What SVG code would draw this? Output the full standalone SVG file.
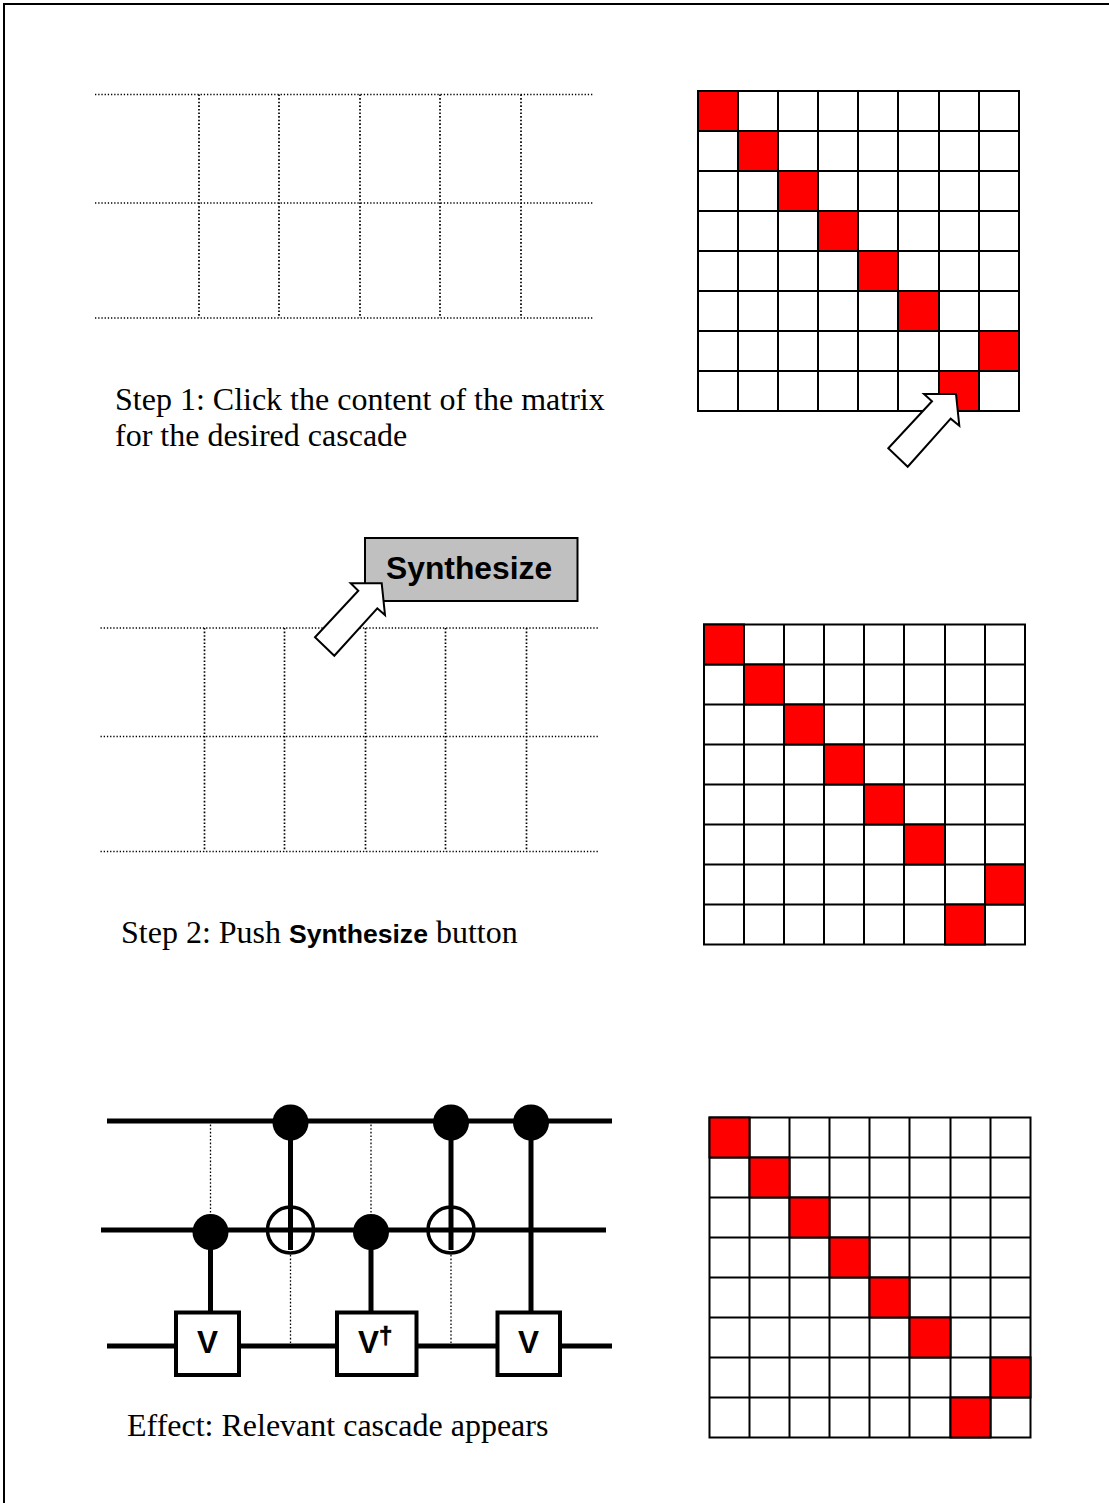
<svg xmlns="http://www.w3.org/2000/svg" xmlns:xlink="http://www.w3.org/1999/xlink" width="1109" height="1503" viewBox="0 0 1109 1503">
<style>
.dot{stroke:#000;stroke-width:1.300;stroke-dasharray:1.300 1.900;fill:none}
.dotv{stroke:#000;stroke-width:1.700;stroke-dasharray:1.600 2;fill:none}
.wire{stroke:#000;stroke-width:5;fill:none}
.cell{fill:#fff;stroke:#000;stroke-width:2}
.red{fill:#f00;stroke:#000;stroke-width:2}
.arrow{fill:#fff;stroke:#000;stroke-width:2;stroke-linejoin:miter}
.gate{fill:#fff;stroke:#000;stroke-width:4}
.cap{font-family:"Liberation Serif","Times New Roman",serif;font-size:32px;fill:#000}
.bold{font-family:"Liberation Sans",Arial,sans-serif;font-weight:bold;fill:#000}
</style>
<defs>
<g id="matrix">
<rect class="cell" x="0" y="0" width="321" height="320"/>
<path d="M40 0V320M80 0V320M120 0V320M160 0V320M200 0V320M241 0V320M281 0V320M0 40H321M0 80H321M0 120H321M0 160H321M0 200H321M0 240H321M0 280H321" fill="none" stroke="#000" stroke-width="2"/>
<rect class="red" x="0" y="0" width="40" height="40"/>
<rect class="red" x="40" y="40" width="40" height="40"/>
<rect class="red" x="80" y="80" width="40" height="40"/>
<rect class="red" x="120" y="120" width="40" height="40"/>
<rect class="red" x="160" y="160" width="40" height="40"/>
<rect class="red" x="200" y="200" width="41" height="40"/>
<rect class="red" x="281" y="240" width="40" height="40"/>
<rect class="red" x="241" y="280" width="40" height="40"/>
</g>
<g id="grid">
<path class="dot" d="M0 0H499M0 108.500H499M0 223.500H499"/>
<path class="dotv" d="M104 0V223.500M184 0V223.500M265 0V223.500M345 0V223.500M426 0V223.500"/>
</g>
</defs>
<rect width="1109" height="1503" fill="#fff"/>
<path id="frame" d="M4 1503V4H1109" fill="none" stroke="#000" stroke-width="2"/>
<g id="step1">
<use id="grid1" xlink:href="#grid" href="#grid" transform="translate(95 94.500)"/>
<use id="matrix1" xlink:href="#matrix" href="#matrix" transform="translate(698 91)"/>
<polygon id="arrow1" class="arrow" points="924,394 956,394 959.300,425.700 950.700,418.700 907.700,466.700 888.300,448.300 932,401.300"/>
<text class="cap" x="115" y="410">Step 1: Click the content of the matrix</text>
<text class="cap" x="115" y="446">for the desired cascade</text>
</g>
<g id="step2">
<use id="grid2" xlink:href="#grid" href="#grid" transform="translate(100.500 628)"/>
<use id="matrix2" xlink:href="#matrix" href="#matrix" transform="translate(704 624.500)"/>
<g id="button">
<rect x="365" y="538" width="212.500" height="63" fill="#c0c0c0" stroke="#000" stroke-width="2"/>
<text class="bold" x="386" y="579" font-size="31.800">Synthesize</text>
</g>
<polygon id="arrow2" class="arrow" points="350.700,583.300 381.700,583.300 385,615 377.300,608.300 334.300,655.700 315,637.300 358.300,590.700"/>
<text class="cap" x="121" y="943">Step 2: Push <tspan class="bold" font-size="26.600">Synthesize</tspan> button</text>
</g>
<g id="effect">
<g id="connectors">
<path class="dotv" d="M210.500 1121V1214M371 1121V1214M290.500 1255V1343M451 1255V1343" style="stroke-width:1.300"/>
<path class="wire" d="M107 1121H612M101 1230H606M107 1346H612"/>
<path class="wire" d="M290.500 1122V1250M451 1122V1250M531 1122V1312M210.500 1232V1312M371 1232V1312"/>
</g>
<g id="control1"><circle cx="290.500" cy="1122.500" r="18"/></g>
<g id="control2"><circle cx="451" cy="1122.500" r="18"/></g>
<g id="control3"><circle cx="531" cy="1122.500" r="18"/></g>
<g id="control4"><circle cx="210.500" cy="1232" r="18"/></g>
<g id="control5"><circle cx="371" cy="1232" r="18"/></g>
<g id="target1"><circle cx="290.500" cy="1230" r="23" fill="none" stroke="#000" stroke-width="3.500"/></g>
<g id="target2"><circle cx="451" cy="1230" r="23" fill="none" stroke="#000" stroke-width="3.500"/></g>
<g id="gate1"><rect class="gate" x="176" y="1312.500" width="63" height="62.500"/><text class="bold" x="197" y="1353" font-size="31.500">V</text></g>
<g id="gate2"><rect class="gate" x="337" y="1312.500" width="79.500" height="62.500"/><text class="bold" x="358" y="1353" font-size="31.500">V<tspan font-size="24" dy="-9" dx="0" stroke="#000" stroke-width="0.700">†</tspan></text></g>
<g id="gate3"><rect class="gate" x="497.500" y="1312.500" width="62.500" height="62.500"/><text class="bold" x="518" y="1353" font-size="31.500">V</text></g>
<use id="matrix3" xlink:href="#matrix" href="#matrix" transform="translate(709.500 1117.500)"/>
<text class="cap" x="127" y="1436">Effect: Relevant cascade appears</text>
</g>
</svg>
